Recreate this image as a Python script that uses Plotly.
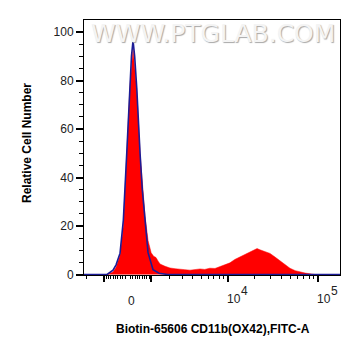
import numpy as np
import plotly.graph_objects as go

# ---- data (fluorescence intensity, FITC-A) ----
C = 1585.0  # biexponential-like (arcsinh) width parameter

CONTROL_X = [-2150, -873, -607, -478, -312, -178, -40, 60, 92, 150, 214, 280, 366, 430, 504,
             600, 720, 855, 1090, 1400, 1900, 175000]
CONTROL_Y = [0, 0, 1.8, 4.0, 8.8, 22.4, 50, 72, 80, 90, 96.5, 90, 77, 62, 50,
             35, 22, 9, 2, 0.5, 0, 0]

SAMPLE_X = [-873, -607, -478, -312, -178, -40, 92, 214, 366, 504, 720, 855, 1000, 1120, 1240,
            1350, 1455, 1740, 2050, 2400, 2780, 3200, 3700, 4200, 4850, 5500, 6300, 7200, 8200,
            9300, 10600, 12000, 13700, 15600, 17700, 19500, 21200, 22800, 25500, 29500, 33500,
            38000, 43000, 49000, 56000, 63000, 72000, 81500, 92500]
SAMPLE_Y = [0, 1.0, 3.0, 8.0, 20, 47, 78, 93, 76, 50, 24, 14, 9, 7.5, 7.0,
            5.5, 4.3, 3.4, 2.7, 2.4, 2.1, 2.0, 1.8, 2.1, 2.3, 2.1, 2.6, 2.5, 3.2,
            4.0, 4.8, 6.2, 7.2, 8.3, 9.4, 10.0, 10.7, 10.2, 9.6, 8.7, 7.2,
            5.6, 4.0, 2.6, 1.6, 1.0, 0.6, 0.3, 0]

X_RANGE = [-2150, 175000]
Y_RANGE = [-0.2, 104.95]
Y_TICKS = [0, 20, 40, 60, 80, 100]
X_MAJOR = [-1000, 1000, 10000, 100000]
X_MINOR = ([-2000] + [-100 * i for i in range(1, 10)] + [100 * i for i in range(1, 10)]
           + [1000 * i for i in range(2, 10)] + [10000 * i for i in range(2, 10)])
X_LABELS = [(0, "0", None), (10000, "10", "4"), (100000, "10", "5")]

X_TITLE = "Biotin-65606 CD11b(OX42),FITC-A"
Y_TITLE = "Relative Cell Number"
WATERMARK = "WWW.PTGLAB.COM"


def T(v):
    return np.arcsinh(np.asarray(v, dtype=float) / C)


FONT = "Liberation Sans, Arial, sans-serif"

fig = go.Figure()
fig.add_trace(go.Scatter(
    x=T(SAMPLE_X), y=SAMPLE_Y, mode="lines", fill="tozeroy",
    fillcolor="#ff0000", line=dict(color="#ff0000", width=0.5), hoverinfo="skip"))
fig.add_trace(go.Scatter(
    x=T(CONTROL_X), y=CONTROL_Y, mode="lines",
    line=dict(color="#1c1c96", width=1.6), hoverinfo="skip"))

fig.update_layout(
    width=361, height=356,
    margin=dict(l=84, r=21, t=20, b=81),
    paper_bgcolor="white", plot_bgcolor="white",
    showlegend=False,
    font=dict(family=FONT, size=12, color="#222222"),
)

fig.update_xaxes(
    range=list(T(X_RANGE)), showgrid=False, zeroline=False,
    showline=True, linecolor="black", linewidth=1, mirror=True,
    ticks="outside", ticklen=6, tickwidth=2, tickcolor="black",
    tickmode="array", tickvals=list(T(X_MAJOR)), showticklabels=False,
    minor=dict(tickmode="array", tickvals=list(T(X_MINOR)), ticks="outside",
               ticklen=3, tickwidth=1, tickcolor="black", showgrid=False),
)
fig.update_yaxes(
    range=Y_RANGE, showgrid=False, zeroline=False,
    showline=True, linecolor="black", linewidth=1, mirror=True,
    ticks="outside", ticklen=7, tickwidth=2, tickcolor="black",
    tickmode="array", tickvals=Y_TICKS,
    tickfont=dict(family=FONT, size=12, color="#222222"),
    minor=dict(dtick=5, ticks="outside", ticklen=4, tickwidth=1,
               tickcolor="black", showgrid=False),
)

annotations = []
for v, base, exp in X_LABELS:
    if exp is None:
        annotations.append(dict(x=float(T(v)), xref="x", y=-0.067, yref="paper",
                                text=base, showarrow=False, xanchor="center", yanchor="top",
                                xshift=4, font=dict(family=FONT, size=12, color="#222222")))
    else:
        annotations.append(dict(x=float(T(v)), xref="x", y=-0.059, yref="paper",
                                text=base, showarrow=False, xanchor="left", yanchor="top",
                                xshift=-3, font=dict(family=FONT, size=12, color="#222222")))
        annotations.append(dict(x=float(T(v)), xref="x", y=-0.027, yref="paper",
                                text=exp, showarrow=False, xanchor="left", yanchor="top",
                                xshift=11, font=dict(family=FONT, size=12, color="#222222")))

annotations.append(dict(x=0.504, xref="paper", y=-0.212, yref="paper", text=X_TITLE,
                        showarrow=False, xanchor="center", yanchor="middle",
                        font=dict(family=FONT, size=12, color="black", weight="bold")))
annotations.append(dict(x=-0.2227, xref="paper", y=0.5176, yref="paper", text=Y_TITLE,
                        showarrow=False, xanchor="center", yanchor="middle", textangle=-90,
                        font=dict(family=FONT, size=12, color="black", weight="bold")))
annotations.append(dict(x=0.988, xref="paper", y=1.012, yref="paper", text=WATERMARK,
                        showarrow=False, xanchor="right", yanchor="top",
                        font=dict(family="DejaVu Sans, sans-serif", size=25, color="#f4f4f4",
                                  shadow="1px 1px 1px #a8a8a8")))
fig.update_layout(annotations=annotations)

fig.write_html("out.html", config={"displayModeBar": False},
               post_script="document.body.style.margin='0';document.body.style.padding='0';")
